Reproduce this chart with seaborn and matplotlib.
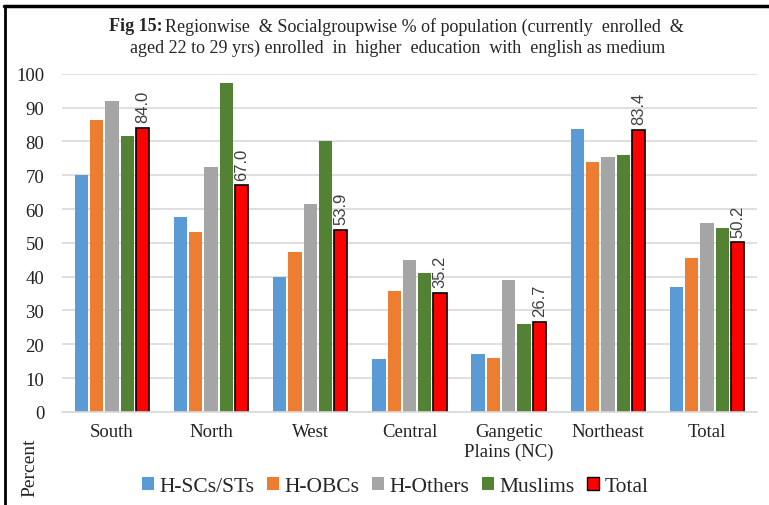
import pandas as pd
import numpy as np
import matplotlib.pyplot as plt
import seaborn as sns
from matplotlib.lines import Line2D
from matplotlib.patches import Patch

regions = ['South', 'North', 'West', 'Central', 'Gangetic\nPlains (NC)', 'Northeast', 'Total']
groups = ['H-SCs/STs', 'H-OBCs', 'H-Others', 'Muslims', 'Total']

sc_st = [70.0, 57.7, 39.8, 15.6, 17.1, 83.8, 36.9]
obc = [86.4, 53.3, 47.4, 35.8, 15.9, 73.8, 45.5]
others = [92.0, 72.5, 61.5, 44.8, 39.1, 75.4, 55.9]
muslims = [81.7, 97.4, 80.0, 41.0, 25.9, 76.0, 54.3]
total = [84.0, 67.0, 53.9, 35.2, 26.7, 83.4, 50.2]

colors = ['#5B9BD5', '#ED7D31', '#A5A5A5', '#548235', '#FF0000']

df = pd.DataFrame({'Region': regions * 5,
                   'Group': np.repeat(groups, len(regions)),
                   'Percent': sc_st + obc + others + muslims + total})

sns.set_style('white')
plt.rcParams['font.family'] = ['Liberation Serif', 'DejaVu Serif']

fig = plt.figure(figsize=(7.69, 5.06), dpi=100)
ax = fig.add_axes([0.081, 0.184, 0.903, 0.668])

sns.barplot(data=df, x='Region', y='Percent', hue='Group', palette=colors, saturation=1,
            width=0.77, gap=0.13, ax=ax, legend=False, linewidth=0, edgecolor='none')

# red bars get a black outline + labels
red = ax.containers[-1]
for b in red:
    b.set_edgecolor('black')
    b.set_linewidth(1.2)
ax.bar_label(red, labels=[f'{v:.1f}' for v in total], rotation=90, padding=4,
             fontsize=12, color='#404040', family='Liberation Sans')

ax.set_ylim(0, 100)
ax.set_xlim(-0.5, 6.5)
ax.set_yticks(range(0, 101, 10))
ax.yaxis.grid(True, color='#D9D9D9', linewidth=1.2)
ax.set_axisbelow(True)
for s in ['top', 'right', 'left']:
    ax.spines[s].set_visible(False)
ax.spines['bottom'].set_color('#D9D9D9')
ax.spines['bottom'].set_linewidth(1.2)
ax.tick_params(axis='both', length=0, labelsize=13.5, colors='#222222', pad=8)
ax.tick_params(axis='y', pad=13)
ax.set_xlabel('')
ax.set_ylabel('')

fig.text(0.039, 0.075, 'Percent', rotation=90, fontsize=14, ha='center', va='center')

# title
fig.text(0.212, 0.947, 'Fig 15:', fontsize=13, fontweight='bold', ha='right', va='center')
fig.text(0.214, 0.947, 'Regionwise  & Socialgroupwise % of population (currently  enrolled  &',
         fontsize=13, ha='left', va='center')
fig.text(0.517, 0.905, 'aged 22 to 29 yrs) enrolled  in  higher  education  with  english as medium',
         fontsize=13, ha='center', va='center')

handles = [Patch(facecolor=c, edgecolor='black' if g == 'Total' else 'none', linewidth=1)
           for c, g in zip(colors, groups)]
fig.legend(handles, groups, loc='center', bbox_to_anchor=(0.514, 0.036), ncol=5,
           frameon=False, prop={'family': 'Liberation Serif', 'size': 15.5},
           handlelength=0.55, handleheight=0.55, handletextpad=0.25, columnspacing=0.6)

# border lines (left and top)
fig.add_artist(Line2D([0.006, 0.006], [0, 0.987], color='black', linewidth=2, transform=fig.transFigure))
fig.add_artist(Line2D([0.005, 1.0], [0.987, 0.987], color='black', linewidth=2.5, transform=fig.transFigure))

fig.savefig('out.png', dpi=100)
